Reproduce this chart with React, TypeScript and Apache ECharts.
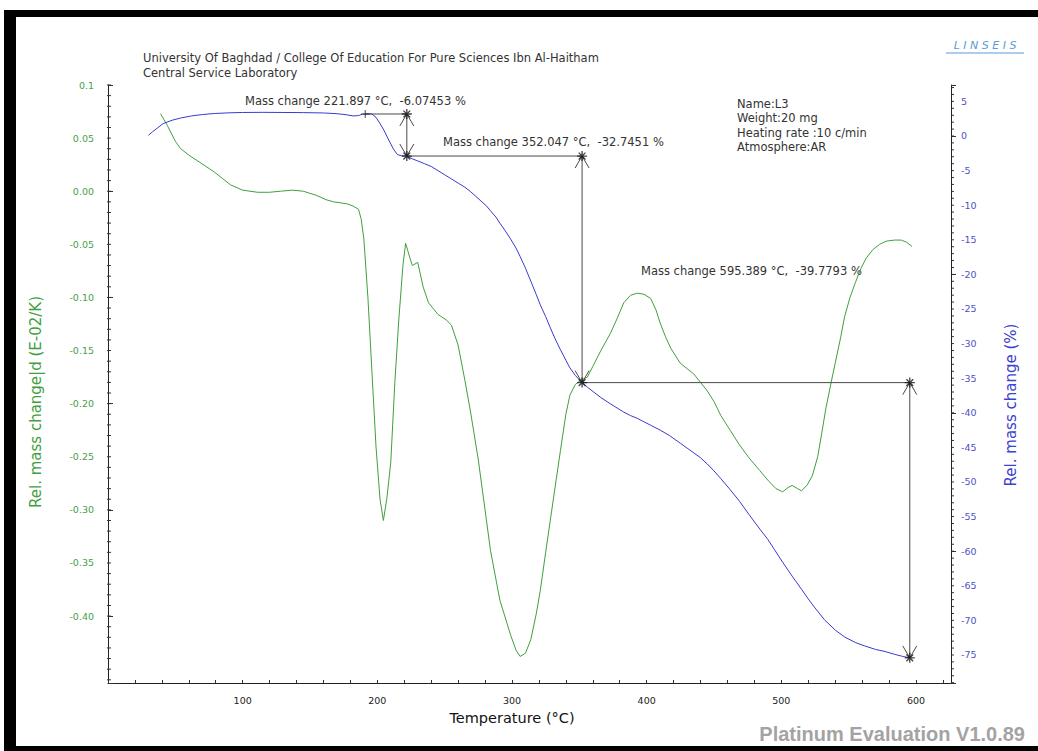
import React, { useEffect, useRef } from "react";
import * as echarts from "echarts";

// ---- TG curve (Rel. mass change %, right axis) ----
const tgTemp = [
  30, 33, 37, 41, 48, 54, 62, 70, 79, 90, 100, 115, 130, 145, 160, 170, 176, 182, 186, 189, 193, 196,
  199, 202, 205, 208, 212, 215, 218, 221.9, 226, 230, 235, 240, 245, 250, 255, 260, 265, 269, 273, 277,
  281, 284, 288, 291, 295, 299, 303, 306, 310, 314, 318, 321, 325, 328, 332, 336, 340, 343, 347, 352,
  356, 360, 366, 373, 378, 383, 388, 393, 398, 403, 410, 417, 425, 430, 435, 440, 445, 450, 455, 462,
  469, 476, 484, 490, 495, 501, 508, 515, 520, 525, 532, 540, 547, 555, 562, 570, 577, 584, 590, 595.4,
];
const tgMass = [
  0.1, 0.6, 1.2, 1.8, 2.3, 2.6, 2.9, 3.1, 3.25, 3.35, 3.4, 3.42, 3.4, 3.38, 3.33, 3.22, 3.1, 2.9, 2.95, 3.15, 3.2, 3.18,
  2.7, 1.8, 0.8, -0.4, -1.9, -2.7, -2.85, -2.89, -3.3, -3.6, -4.0, -4.4, -5.0, -5.6, -6.2, -6.8, -7.4, -8.0, -8.7, -9.4,
  -10.1, -10.8, -11.7, -12.6, -13.7, -14.9, -16.2, -17.4, -19.1, -21.0, -22.9, -24.4, -26.1, -27.5, -29.3, -30.9, -32.4, -33.5, -34.6, -35.64,
  -36.3, -36.9, -37.8, -38.7, -39.3, -39.9, -40.4, -40.8, -41.3, -41.8, -42.5, -43.3, -44.4, -45.1, -45.8, -46.5, -47.4, -48.4, -49.5, -51.1,
  -52.8, -54.7, -56.8, -58.3, -59.8, -61.6, -63.6, -65.5, -66.9, -68.2, -69.9, -71.4, -72.4, -73.2, -73.7, -74.2, -74.5, -74.9, -75.2, -75.42,
];

// ---- DTG curve (Rel. mass change|d, left axis) ----
const dtgTemp = [
  39, 44, 50, 54, 60, 66, 72, 79, 85, 91, 100, 111, 120, 128, 137, 145, 150, 155, 162, 167.5, 173, 178, 182,
  186, 188, 190, 193, 196, 199, 202, 204.5, 207, 210, 213, 216, 219, 221, 224, 226, 230, 234, 238, 245, 251,
  255, 260, 265, 269, 275, 280, 284, 291, 299, 303, 306, 310, 314, 318, 321, 325, 329, 333, 336, 340, 343,
  347, 351, 356, 360, 366, 373, 378, 383, 388, 393, 398, 403, 407, 410, 414, 418, 425, 430, 435, 440, 445,
  450, 455, 462, 469, 476, 484, 490, 496, 501, 505, 508, 512, 515, 519, 523, 527, 530, 533, 537, 540, 544,
  547, 551, 555, 559, 563, 568, 573, 578, 584, 589, 593, 597,
];
const dtgRate = [
  0.073, 0.062, 0.047, 0.04, 0.034, 0.029, 0.024, 0.018, 0.012, 0.006, 0.001, -0.001, -0.001, 0.0, 0.001, 0.0, -0.002, -0.004, -0.008, -0.01, -0.011, -0.012, -0.014,
  -0.017, -0.026, -0.045, -0.1, -0.17, -0.24, -0.29, -0.31, -0.29, -0.255, -0.18, -0.12, -0.07, -0.049, -0.062, -0.07, -0.067, -0.09, -0.105, -0.116, -0.121,
  -0.126, -0.145, -0.178, -0.206, -0.253, -0.3, -0.338, -0.385, -0.418, -0.432, -0.438, -0.435, -0.422, -0.398, -0.376, -0.34, -0.305, -0.27, -0.244, -0.21, -0.192,
  -0.182, -0.178, -0.175, -0.165, -0.15, -0.134, -0.12, -0.105, -0.098, -0.096, -0.097, -0.101, -0.112, -0.124, -0.137, -0.148, -0.162, -0.167, -0.172, -0.18, -0.188,
  -0.198, -0.211, -0.225, -0.239, -0.251, -0.263, -0.272, -0.28, -0.283, -0.279, -0.277, -0.28, -0.282, -0.277, -0.268, -0.25, -0.228, -0.205, -0.18, -0.162, -0.138,
  -0.118, -0.1, -0.086, -0.073, -0.063, -0.055, -0.05, -0.047, -0.046, -0.046, -0.048, -0.052,
];

// ---- axes ----
const X_MIN = 0;
const X_MAX = 626;
const xLabelValues = [100, 200, 300, 400, 500, 600];
const leftLabelValues = [0.1, 0.05, 0, -0.05, -0.1, -0.15, -0.2, -0.25, -0.3, -0.35, -0.4];
const rightLabelValues = [5, 0, -5, -10, -15, -20, -25, -30, -35, -40, -45, -50, -55, -60, -65, -70, -75];
const leftMinorTicks = Array.from({ length: 57 }, (_, i) => (10 - i) / 100);
const rightMinorTicks = Array.from({ length: 87 }, (_, i) => 7 - i);

// ---- mass change evaluation steps ----
const stepStartTemps = [191, 221.897, 352.047];
const stepTemps = [221.897, 352.047, 595.389];
const stepChanges = [-6.07453, -32.7451, -39.7793];
const stepStartLevel = 3.18;

const headerLines = [
  "University Of Baghdad / College Of Education For Pure Sciences Ibn Al-Haitham",
  "Central Service Laboratory",
];
const infoLines = ["Name:L3", "Weight:20 mg", "Heating rate :10 c/min", "Atmosphere:AR"];

const GREEN = "#3f9f3f";
const BLUE = "#3a3ad0";
const FONT = "DejaVu Sans";
const SMALL = 11.5;

export default function App() {
  const ref = useRef<HTMLDivElement>(null);

  useEffect(() => {
    if (!ref.current) return;
    const chart = echarts.init(ref.current, null, { renderer: "svg", width: 1038, height: 751 });

    const levels: number[] = [];
    let lv = stepStartLevel;
    for (let i = 0; i < stepTemps.length; i++) {
      levels.push(lv);
      lv = lv + stepChanges[i];
    }
    const segments: number[][] = [];
    const stars: number[][] = [];
    stepTemps.forEach((t, i) => {
      const top = levels[i];
      const bot = levels[i] + stepChanges[i];
      segments.push([stepStartTemps[i], top, t, top, 0]);
      segments.push([t, top, t, bot, 1]);
      stars.push([t, top]);
      stars.push([t, bot]);
    });

    const annotTexts = [
      { x: 245, y: 101 },
      { x: 443, y: 142 },
      { x: 641, y: 271 },
    ].map((p, i) => ({
      type: "text",
      x: p.x,
      y: p.y,
      style: {
        text: `Mass change ${stepTemps[i].toFixed(3)} °C,  ${stepChanges[i]} %`,
        fill: "#333",
        fontSize: SMALL,
        fontFamily: FONT,
        verticalAlign: "middle",
      },
    }));

    const tickSeries = (axisIndex: number, xVal: number, values: number[], x0: number, x1: number) => ({
      type: "custom",
      xAxisIndex: 0,
      yAxisIndex: axisIndex,
      data: values.map((v) => [xVal, v]),
      clip: false,
      silent: true,
      z: 7,
      renderItem: (params: any, api: any) => {
        const p = api.coord([api.value(0), api.value(1)]);
        return {
          type: "line",
          shape: { x1: p[0] + x0, y1: p[1], x2: p[0] + x1, y2: p[1] },
          style: { stroke: "#333", lineWidth: 1 },
        };
      },
    });

    const option: any = {
      animation: false,
      backgroundColor: "#ffffff",
      grid: { left: 108, top: 85, width: 843, height: 598, containLabel: false },
      xAxis: {
        type: "value",
        min: X_MIN,
        max: X_MAX,
        interval: 20,
        axisLine: { show: true, onZero: false, lineStyle: { color: "#222", width: 1 } },
        axisTick: { show: true, inside: true, length: 3, lineStyle: { color: "#333" } },
        axisLabel: {
          formatter: (v: number) => (xLabelValues.indexOf(v) >= 0 ? String(v) : ""),
          color: "#222",
          fontSize: 9.5,
          fontFamily: FONT,
          margin: 12,
          showMaxLabel: false,
        },
        splitLine: { show: false },
      },
      yAxis: [
        {
          type: "value",
          min: -0.463,
          max: 0.1,
          position: "left",
          axisLine: { show: true, onZero: false, lineStyle: { color: "#222", width: 1 } },
          axisTick: { show: true, inside: true, length: 5, lineStyle: { color: "#333" } },
          axisLabel: {
            customValues: leftLabelValues,
            formatter: (v: number) => (Math.abs(v - 0.1) < 1e-9 ? "0.1" : v.toFixed(2)),
            color: "#4a9e4a",
            fontSize: 9.5,
            fontFamily: FONT,
            margin: 14,
          },
          splitLine: { show: false },
        },
        {
          type: "value",
          min: -79.05,
          max: 7.37,
          position: "right",
          axisLine: { show: true, onZero: false, lineStyle: { color: "#222", width: 1 } },
          axisTick: { show: true, inside: false, length: 5, lineStyle: { color: "#333" } },
          axisLabel: {
            customValues: rightLabelValues,
            formatter: (v: number) => String(Math.round(v)),
            color: "#5050c8",
            fontSize: 9.5,
            fontFamily: FONT,
            margin: 10,
          },
          splitLine: { show: false },
        },
      ],
      series: [
        tickSeries(0, X_MIN, leftMinorTicks, -1, 3),
        tickSeries(1, X_MAX, rightMinorTicks, 0, 3),
        {
          type: "line",
          name: "DTG",
          xAxisIndex: 0,
          yAxisIndex: 0,
          data: dtgTemp.map((t, i) => [t, dtgRate[i]]),
          showSymbol: false,
          symbol: "none",
          lineStyle: { color: GREEN, width: 1 },
          z: 3,
        },
        {
          type: "line",
          name: "TG",
          xAxisIndex: 0,
          yAxisIndex: 1,
          data: tgTemp.map((t, i) => [t, tgMass[i]]),
          showSymbol: false,
          symbol: "none",
          lineStyle: { color: BLUE, width: 1 },
          z: 4,
        },
        {
          type: "custom",
          xAxisIndex: 0,
          yAxisIndex: 1,
          data: segments,
          encode: { x: [0, 2], y: [1, 3] },
          z: 5,
          renderItem: (params: any, api: any) => {
            const a = api.coord([api.value(0), api.value(1)]);
            const b = api.coord([api.value(2), api.value(3)]);
            const arrow = api.value(4);
            const stroke = "#4a4a4a";
            const children: any[] = [
              { type: "line", shape: { x1: a[0], y1: a[1], x2: b[0], y2: b[1] }, style: { stroke, lineWidth: 1 } },
            ];
            if (arrow) {
              const dir = b[1] > a[1] ? 1 : -1;
              children.push({
                type: "polyline",
                shape: { points: [[a[0] - 7, a[1] + dir * 12], [a[0], a[1]], [a[0] + 7, a[1] + dir * 12]] },
                style: { stroke, fill: "none", lineWidth: 1 },
              });
              children.push({
                type: "polyline",
                shape: { points: [[b[0] - 7, b[1] - dir * 12], [b[0], b[1]], [b[0] + 7, b[1] - dir * 12]] },
                style: { stroke, fill: "none", lineWidth: 1 },
              });
            }
            return { type: "group", children };
          },
        },
        {
          type: "scatter",
          xAxisIndex: 0,
          yAxisIndex: 1,
          data: stars,
          symbol: "path://M5,0L5,10M0,5L10,5M1.6,1.6L8.4,8.4M1.6,8.4L8.4,1.6",
          symbolSize: 10,
          itemStyle: { color: "transparent", borderColor: "#111", borderWidth: 1.3 },
          z: 6,
        },
        {
          type: "scatter",
          xAxisIndex: 0,
          yAxisIndex: 1,
          data: [[stepStartTemps[0], stepStartLevel]],
          symbol: "path://M5,0L5,10M0,5L10,5",
          symbolSize: 8,
          itemStyle: { color: "transparent", borderColor: "#222", borderWidth: 1 },
          z: 6,
        },
      ],
      graphic: [
        // scanned frame
        { type: "rect", shape: { x: 8, y: 10, width: 1030, height: 7 }, style: { fill: "#000" } },
        { type: "rect", shape: { x: 4, y: 10, width: 12, height: 741 }, style: { fill: "#000" } },
        { type: "rect", shape: { x: 4, y: 746, width: 1034, height: 5 }, style: { fill: "#000" } },
        ...headerLines.map((t, i) => ({
          type: "text",
          x: 143,
          y: 58 + i * 15,
          style: { text: t, fill: "#333", fontSize: SMALL, fontFamily: FONT, verticalAlign: "middle" },
        })),
        ...infoLines.map((t, i) => ({
          type: "text",
          x: 737,
          y: 104 + i * 14.4,
          style: { text: t, fill: "#333", fontSize: SMALL, fontFamily: FONT, verticalAlign: "middle" },
        })),
        ...annotTexts,
        {
          type: "text",
          x: 985,
          y: 45,
          style: {
            text: "L I N S E I S",
            fill: "#5b9bd5",
            fontSize: 11,
            fontStyle: "italic",
            fontFamily: FONT,
            align: "center",
            verticalAlign: "middle",
          },
        },
        { type: "line", shape: { x1: 946, y1: 53, x2: 1024, y2: 53 }, style: { stroke: "#5b9bd5", lineWidth: 1 } },
        {
          type: "text",
          x: 36,
          y: 402,
          rotation: Math.PI / 2,
          style: {
            text: "Rel. mass change|d (E-02/K)",
            fill: "#3f9f3f",
            fontSize: 15,
            fontFamily: FONT,
            align: "center",
            verticalAlign: "middle",
          },
        },
        {
          type: "text",
          x: 1011,
          y: 405,
          rotation: Math.PI / 2,
          style: {
            text: "Rel. mass change (%)",
            fill: "#4040d0",
            fontSize: 15,
            fontFamily: FONT,
            align: "center",
            verticalAlign: "middle",
          },
        },
        {
          type: "text",
          x: 512,
          y: 718,
          style: {
            text: "Temperature (°C)",
            fill: "#111",
            fontSize: 14.5,
            fontFamily: FONT,
            align: "center",
            verticalAlign: "middle",
          },
        },
        {
          type: "text",
          x: 1025,
          y: 734,
          style: {
            text: "Platinum Evaluation V1.0.89",
            fill: "#a3a3a3",
            fontSize: 20,
            fontWeight: "bold",
            fontFamily: "Liberation Sans",
            align: "right",
            verticalAlign: "middle",
          },
        },
      ],
    };

    chart.setOption(option);
    return () => chart.dispose();
  }, []);

  return (
    <div
      ref={ref}
      style={{ position: "fixed", left: 0, top: 0, width: 1038, height: 751, background: "#fff" }}
    />
  );
}
